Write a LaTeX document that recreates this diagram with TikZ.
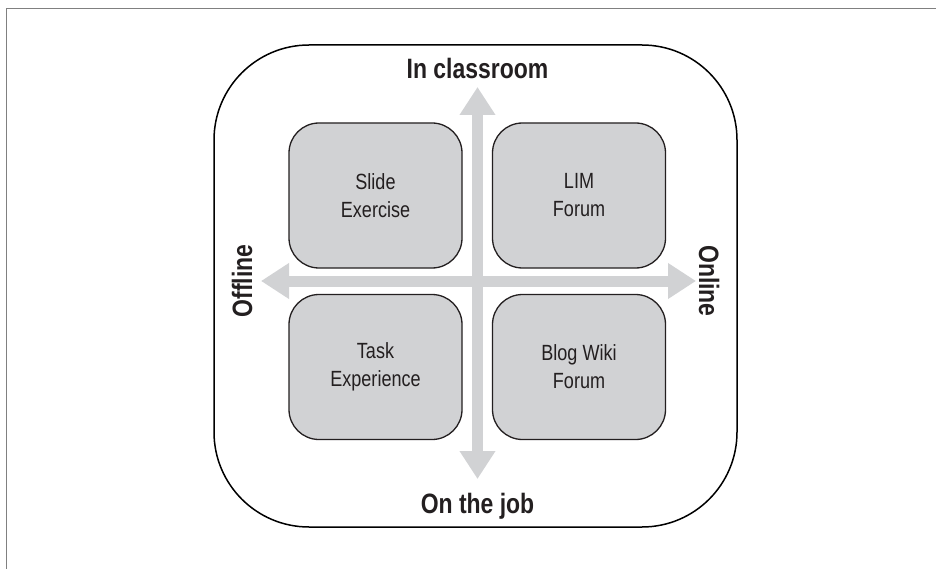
\documentclass[tikz,border=0pt]{standalone}
\usepackage{fontspec}
\setmainfont{Liberation Sans}
\newfontfamily\condfont[FakeStretch=0.82]{Liberation Sans}
\usetikzlibrary{arrows.meta}
\definecolor{boxfill}{HTML}{D1D2D4}
\definecolor{ink}{HTML}{231F20}
\definecolor{framegray}{HTML}{808080}
\tikzset{
  quad/.style={draw=ink, line width=1.3pt, fill=boxfill, rounded corners=30pt,
    minimum width=173pt, minimum height=145pt, inner sep=0pt,
    align=center, text=ink, font=\condfont\fontsize{22}{28}\selectfont},
  axislabel/.style={text=ink, inner sep=0pt, font=\condfont\bfseries\fontsize{28}{32}\selectfont},
  axisarrow/.style={draw=boxfill, line width=11pt,
    {Triangle[length=28pt,width=34pt]}-{Triangle[length=28pt,width=34pt]}},
  outerbox/.style={draw=black, line width=1.5pt, rounded corners=95pt,
    minimum width=523pt, minimum height=482pt, inner sep=0pt},
}
\begin{document}
\begin{tikzpicture}[x=1pt,y=-1pt]
\useasboundingbox (0,0) rectangle (936,569);
\fill[white] (0,0) rectangle (936,569);
% frame lines
\coordinate (f1) at (6.7,569);
\coordinate (f2) at (6.7,8.7);
\coordinate (f3) at (936,8.7);
\draw[framegray, line width=1.2pt] (f1) -- (f2) -- (f3);
% outer rounded box
\node[outerbox] (outer) at (475.5,286) {};
% axis arrows
\coordinate (ntip) at (477.5,87);
\coordinate (stip) at (477.5,479);
\coordinate (wtip) at (261,281);
\coordinate (etip) at (696,281);
\draw[axisarrow] (stip) -- (ntip);
\draw[axisarrow] (wtip) -- (etip);
% quadrant boxes
\node[quad] (tl) at (375.5,195.5) {Slide\\Exercise};
\node[quad] (tr) at (579,195.5) {LIM\\Forum};
\node[quad] (bl) at (375.5,367) {Task\\Experience};
\node[quad] (br) at (579,367) {Blog Wiki\\Forum};
% axis labels
\node[axislabel, anchor=base] (inclass) at (477.5,79) {In classroom};
\node[axislabel, anchor=base] (onjob) at (477.5,513) {On the job};
\node[axislabel, rotate=90] (offline) at (242,281) {Offline};
\node[axislabel, rotate=-90] (online) at (709,281) {Online};
\end{tikzpicture}
\end{document}
